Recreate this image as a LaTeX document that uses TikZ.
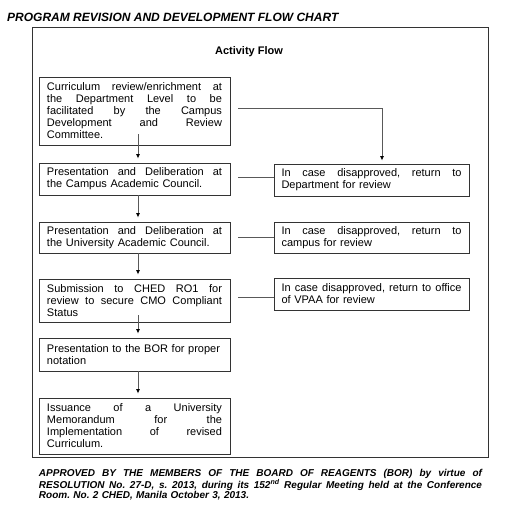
\documentclass[tikz,border=0pt]{standalone}
\usepackage{fontspec}
\setmainfont{Liberation Sans}
\usetikzlibrary{arrows.meta}
\frenchspacing
\newcommand\jl[2][175bp]{\makebox[#1][s]{\spaceskip=0pt\xspaceskip=0pt #2}}
\begin{document}
\begin{tikzpicture}[x=1bp,y=-1bp,
  lbox/.style={draw=black!80,line width=0.9bp,text width=175bp,inner xsep=8bp,inner ysep=2bp,align=left,font=\fontsize{11bp}{12bp}\selectfont},
  rbox/.style={lbox,text width=180bp,inner xsep=7.5bp},
  conn/.style={draw=black!65,line width=0.8bp},
  arr/.style={conn,-{Latex[length=4.5bp,width=4bp,color=black]},shorten >=4bp},
  frame/.style={draw=black!80,line width=0.9bp}
]
\useasboundingbox (0,0) rectangle (521,517);
\node[anchor=base west,inner sep=0,font=\fontsize{12bp}{14bp}\selectfont\bfseries\itshape] (title) at (7,21.5) {PROGRAM REVISION AND DEVELOPMENT FLOW CHART};
\draw[frame] (32,27) rectangle (488,457);
\node[anchor=base,inner sep=0,font=\fontsize{11bp}{13bp}\selectfont\bfseries] (head) at (249,55) {Activity Flow};

\node[lbox,minimum height=68bp] (b1) at (134.5,111) {\jl{Curriculum review/enrichment at}\\\jl{the Department Level to be}\\\jl{facilitated by the Campus}\\\jl{Development and Review}\\Committee.};
\node[lbox,minimum height=32bp] (b2) at (134.5,179) {\jl{Presentation and Deliberation at}\\the Campus Academic Council.};
\node[lbox,minimum height=31bp] (b3) at (134.5,237.5) {\jl{Presentation and Deliberation at}\\the University Academic Council.};
\node[lbox,minimum height=43bp] (b4) at (134.5,300.5) {\jl{Submission to CHED RO1 for}\\\jl{review to secure CMO Compliant}\\Status};
\node[lbox,minimum height=33bp] (b5) at (134.5,354.5) {Presentation to the BOR for proper\\notation};
\node[lbox,minimum height=56bp] (b6) at (134.5,426) {\jl{Issuance of a University}\\\jl{Memorandum for the}\\\jl{Implementation of revised}\\Curriculum.};

\node[rbox,minimum height=32bp] (r1) at (371.5,180) {\jl[180bp]{In case disapproved, return to}\\Department for review};
\node[rbox,minimum height=31bp] (r2) at (371.5,237.5) {\jl[180bp]{In case disapproved, return to}\\campus for review};
\node[rbox,minimum height=32bp] (r3) at (371.5,294) {\jl[180bp]{In case disapproved, return to office}\\of VPAA for review};

\coordinate (ax) at (138,0);
\coordinate (rx) at (382,0);
\draw[arr] ([yshift=11bp]ax |- b1.south) -- (ax |- b2.north);
\draw[arr] (ax |- b2.south) -- (ax |- b3.north);
\draw[arr] (ax |- b3.south) -- (ax |- b4.north);
\draw[arr] ([yshift=7bp]ax |- b4.south) -- (ax |- b5.north);
\draw[arr] (ax |- b5.south) -- (ax |- b6.north);

\draw[arr,shorten >=3bp] ([xshift=8bp,yshift=3bp]b1.east) -| (rx |- r1.north);
\draw[conn] ([xshift=8bp,yshift=2bp]b2.east) -- ([yshift=2bp]b2.east -| r1.west);
\draw[conn] ([xshift=8bp]b3.east) -- (b3.east -| r2.west);
\draw[conn] ([xshift=8bp,yshift=3.5bp]b4.east) -- ([yshift=3.5bp]b4.east -| r3.west);

\node[inner sep=0,text width=443bp,align=left,font=\fontsize{10bp}{9.6bp}\selectfont\bfseries\itshape] (foot) at (260.5,484.5) {\jl[443bp]{APPROVED BY THE MEMBERS OF THE BOARD OF REAGENTS (BOR) by virtue of}\\\jl[443bp]{RESOLUTION No. 27-D, s. 2013, during its 152\textsuperscript{nd} Regular Meeting held at the Conference}\\Room. No. 2 CHED, Manila October 3, 2013.};
\end{tikzpicture}
\end{document}
